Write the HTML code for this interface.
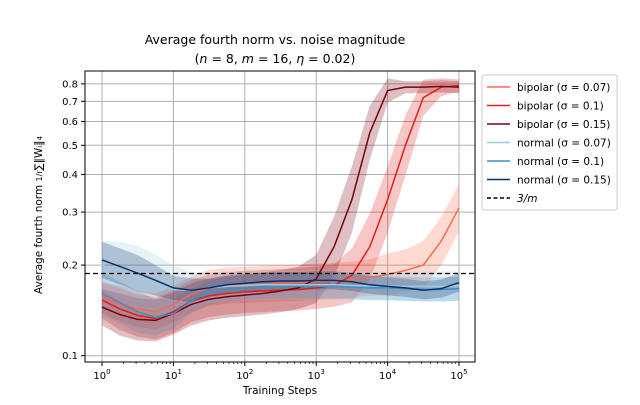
<!DOCTYPE html>
<html><head><meta charset="utf-8"><style>
body{margin:0;background:#fff;}
svg text{font-family:"DejaVu Sans","Liberation Sans",sans-serif;}
</style></head><body>
<svg id="chart" width="640" height="400" xmlns="http://www.w3.org/2000/svg">
<g id="grid"></g>
<g id="bands"></g>
<g id="lines"></g>
<g id="axes"></g>
<text x="275" y="44" text-anchor="middle" font-size="12.5">Average fourth norm vs. noise magnitude</text>
<text x="275" y="63" text-anchor="middle" font-size="12.5">(<tspan font-style="italic">n</tspan> = 8, <tspan font-style="italic">m</tspan> = 16, <tspan font-style="italic">η</tspan> = 0.02)</text>
<text x="280" y="394" text-anchor="middle" font-size="10.5">Training Steps</text>
<text transform="translate(42,215) rotate(-90)" text-anchor="middle" font-size="10.5">Average fourth norm <tspan font-size="8">1/r</tspan>∑‖W<tspan font-size="7">i</tspan>‖<tspan font-size="7">4</tspan></text>
<g id="legend"></g>
</svg>
<script>
const xsLog=[0,0.25,0.5,0.75,1,1.25,1.5,1.75,2,2.25,2.5,2.75,3,3.25,3.5,3.75,4,4.25,4.5,4.75,5];
const b07=[0.156,0.149,0.143,0.14,0.148,0.16,0.168,0.171,0.172,0.173,0.174,0.175,0.176,0.177,0.179,0.182,0.186,0.192,0.2,0.24,0.31];
const b10=[0.153,0.143,0.136,0.133,0.14,0.152,0.158,0.161,0.163,0.164,0.165,0.166,0.168,0.171,0.185,0.23,0.33,0.5,0.72,0.78,0.79];
const b15=[0.145,0.137,0.132,0.131,0.138,0.148,0.154,0.157,0.159,0.161,0.164,0.168,0.18,0.23,0.33,0.55,0.76,0.78,0.78,0.785,0.78];
const n07=[0.2,0.19,0.18,0.172,0.166,0.165,0.168,0.17,0.171,0.172,0.172,0.172,0.172,0.172,0.171,0.171,0.17,0.17,0.17,0.17,0.171];
const n10=[0.161,0.15,0.14,0.134,0.138,0.152,0.162,0.166,0.168,0.169,0.17,0.17,0.17,0.17,0.169,0.168,0.168,0.167,0.166,0.166,0.167];
const n15=[0.208,0.198,0.188,0.178,0.168,0.165,0.168,0.172,0.174,0.176,0.177,0.177,0.178,0.178,0.176,0.172,0.17,0.168,0.165,0.167,0.175];
const sB07=[0.05,0.06,0.06,0.06,0.06,0.06,0.06,0.06,0.06,0.06,0.06,0.06,0.06,0.06,0.06,0.06,0.07,0.07,0.08,0.08,0.08];
const sB10=[0.06,0.07,0.07,0.07,0.07,0.07,0.07,0.07,0.07,0.07,0.07,0.07,0.07,0.07,0.09,0.11,0.11,0.1,0.06,0.03,0.02];
const sB15=[0.06,0.07,0.07,0.07,0.07,0.07,0.07,0.07,0.07,0.07,0.07,0.07,0.08,0.1,0.11,0.09,0.04,0.02,0.02,0.02,0.02];
const sN07=[0.08,0.1,0.11,0.1,0.08,0.06,0.05,0.05,0.05,0.05,0.05,0.05,0.05,0.05,0.05,0.05,0.05,0.05,0.05,0.05,0.05];
const sN10=[0.07,0.07,0.07,0.06,0.05,0.04,0.04,0.04,0.04,0.04,0.04,0.04,0.04,0.04,0.04,0.04,0.04,0.04,0.04,0.04,0.04];
const sN15=[0.06,0.06,0.06,0.05,0.04,0.04,0.03,0.03,0.03,0.03,0.03,0.03,0.03,0.03,0.03,0.03,0.03,0.03,0.03,0.03,0.03];
const seriesNames=["bipolar (σ = 0.07)","bipolar (σ = 0.1)","bipolar (σ = 0.15)","normal (σ = 0.07)","normal (σ = 0.1)","normal (σ = 0.15)"];
const yTicks=[0.1,0.2,0.3,0.4,0.5,0.6,0.7,0.8];
const yTickLabels=["0.1","0.2","0.3","0.4","0.5","0.6","0.7","0.8"];
const xTicks=[0,1,2,3,4,5];
const refLine=3/16;

const NS="http://www.w3.org/2000/svg";
const L=85,R=475,T=71,B=362;
const xS=l=>102+l*71.4;
const yS=v=>355.7-301*Math.log10(v/0.1);
function mk(tag,attrs,parent){const e=document.createElementNS(NS,tag);for(const k in attrs)e.setAttribute(k,attrs[k]);parent.appendChild(e);return e;}
const grid=document.getElementById('grid'),axes=document.getElementById('axes'),bands=document.getElementById('bands'),lines=document.getElementById('lines'),leg=document.getElementById('legend');
xTicks.forEach(t=>{
 const g=mk('line',{x1:xS(t),x2:xS(t),y1:T,y2:B,stroke:'#b0b0b0','stroke-width':1},grid);
 
 
 mk('line',{x1:xS(t),x2:xS(t),y1:B,y2:B+4,stroke:'#000'},axes);
 const tx=mk('text',{x:xS(t),y:B+17,'text-anchor':'middle','font-size':10},axes);
 tx.innerHTML='10<tspan dy="-5" font-size="7">'+t+'</tspan>';
 
 
 if(t<5)for(let k=2;k<10;k++){const xx=xS(t+Math.log10(k));mk('line',{x1:xx,x2:xx,y1:B,y2:B+2,stroke:'#000','stroke-width':0.7},axes);}
});
yTicks.forEach((v,i)=>{
 const g=mk('line',{x1:L,x2:R,y1:yS(v),y2:yS(v),stroke:'#b0b0b0','stroke-width':1},grid);
 
 
 mk('line',{x1:L-4,x2:L,y1:yS(v),y2:yS(v),stroke:'#000'},axes);
 const tx=mk('text',{x:L-7,y:yS(v)+3.5,'text-anchor':'end','font-size':10},axes);
 tx.textContent=yTickLabels[i];
 
 
});
const frame=mk('rect',{x:L,y:T,width:R-L,height:B-T,fill:'none',stroke:'#000','stroke-width':1},axes);


const data=[[b07,sB07,'#fb6a4a'],[b10,sB10,'#e0201b'],[b15,sB15,'#7a0010'],[n07,sN07,'#9ecae1'],[n10,sN10,'#3f8fc5'],[n15,sN15,'#08306b']];
data.forEach(([v,s,c],i)=>{
 let up=[],dn=[];
 v.forEach((y,j)=>{up.push(xS(xsLog[j])+','+yS(y*Math.pow(10,s[j])));dn.unshift(xS(xsLog[j])+','+yS(y/Math.pow(10,s[j])));});
 const p=mk('polygon',{points:up.concat(dn).join(' '),fill:c,'fill-opacity':0.25,stroke:'none'},bands);
 
 
});
data.forEach(([v,s,c],i)=>{
 const pts=v.map((y,j)=>xS(xsLog[j])+','+yS(y)).join(' ');
 const l=mk('polyline',{points:pts,fill:'none',stroke:c,'stroke-width':1.5},lines);
 
 
});
const ref=mk('line',{x1:L,x2:R,y1:yS(refLine),y2:yS(refLine),stroke:'#000','stroke-width':1.2,'stroke-dasharray':'5,3'},lines);


const lb=mk('rect',{x:482,y:75,width:135,height:135,fill:'#fff',stroke:'#ccc',rx:2},leg);


const lc=data.map(d=>d[2]).concat(['#000']);
seriesNames.concat(['3/m']).forEach((n,i)=>{
 const y=87+i*18.5;
 mk('line',{x1:487,x2:510,y1:y,y2:y,stroke:lc[i],'stroke-width':1.5,'stroke-dasharray':i==6?'4,2.5':'none'},leg);
 const t=mk('text',{x:517,y:y+4,'font-size':10.5,'font-style':i==6?'italic':'normal'},leg);
 t.textContent=n;
 
 
});
</script>
</body></html>
